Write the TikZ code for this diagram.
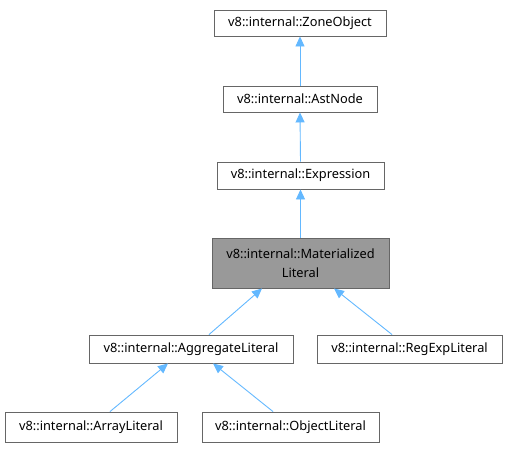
\documentclass[tikz,border=0pt]{standalone}
\usepackage{fontspec}
\setmainfont{Noto Sans}
\usetikzlibrary{arrows.meta}
\definecolor{edgeblue}{HTML}{63B8FF}
\definecolor{boxgray}{HTML}{666666}
\definecolor{fillgray}{HTML}{999999}
\tikzset{
  cls/.style={draw=boxgray, line width=0.9pt, fill=white, inner sep=0pt, font=\fontsize{12.8}{19}\selectfont, align=center},
  cur/.style={cls, fill=fillgray},
  inh/.style={draw=edgeblue, line width=0.9pt, -{Triangle[length=10pt,width=9pt]}},
}
\begin{document}
\begin{tikzpicture}[x=1pt,y=-1pt]
\useasboundingbox (0,0) rectangle (508,448);
\node[cls, minimum width=172pt, minimum height=26pt] (zone) at (300,23) {v8::internal::ZoneObject};
\node[cls, minimum width=154pt, minimum height=26pt] (ast) at (300,99) {v8::internal::AstNode};
\node[cls, minimum width=167pt, minimum height=27pt] (expr) at (300.5,175.5) {v8::internal::Expression};
\node[cur, minimum width=177pt, minimum height=50pt] (mat) at (300.5,263) {v8::internal::Materialized\\Literal};
\node[cls, minimum width=204pt, minimum height=28pt] (agg) at (191,349) {v8::internal::AggregateLiteral};
\node[cls, minimum width=185pt, minimum height=28pt] (reg) at (409.5,349) {v8::internal::RegExpLiteral};
\node[cls, minimum width=172pt, minimum height=30pt] (arr) at (91,427) {v8::internal::ArrayLiteral};
\node[cls, minimum width=177pt, minimum height=30pt] (obj) at (290.5,427) {v8::internal::ObjectLiteral};
\draw[inh] (ast.north) -- (zone.south);
\draw[inh] (expr.north) -- (ast.south);
\draw[inh] (mat.north) -- (expr.south);
\draw[inh] (agg.north -| 209,0) -- (mat.south -| 262,0);
\draw[inh] (reg.north -| 392,0) -- (mat.south -| 334,0);
\draw[inh] (arr.north -| 110,0) -- (agg.south -| 168,0);
\draw[inh] (obj.north -| 273,0) -- (agg.south -| 213,0);
\end{tikzpicture}
\end{document}
